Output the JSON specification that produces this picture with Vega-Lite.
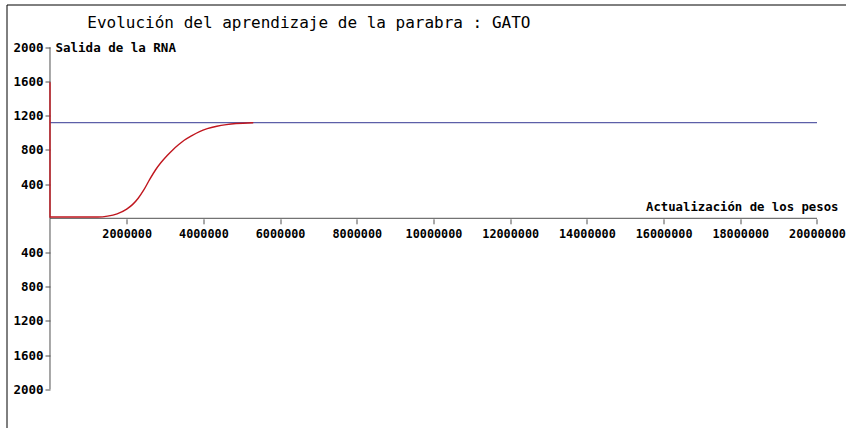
{
  "$schema": "https://vega.github.io/schema/vega-lite/v6.json",
  "width": 841,
  "height": 426,
  "autosize": {"type": "none"},
  "padding": {"left": 6.5, "top": 4.5, "right": -1.5, "bottom": -2.5},
  "background": "white",
  "config": {
    "view": {"stroke": "#000000", "strokeWidth": 1},
    "font": "DejaVu Sans Mono"
  },
  "title": {
    "text": "Evolución del aprendizaje de la parabra : GATO",
    "anchor": "start",
    "frame": "group",
    "orient": "top",
    "offset": 0,
    "dx": 80.8,
    "dy": 39.5,
    "baseline": "alphabetic",
    "font": "DejaVu Sans Mono",
    "fontSize": 16,
    "fontWeight": "normal",
    "color": "#000000"
  },
  "datasets": {
    "axes": [
      {"x": 0, "x2": 20000000, "y": 0, "y2": 0},
      {"x": 0, "x2": 0, "y": -2000, "y2": 2000}
    ],
    "target": [
      {"x": 0, "y": 1120},
      {"x": 20000000, "y": 1120}
    ],
    "output": [
      {"x": 0, "y": 1590},
      {"x": 0, "y": 15},
      {"x": 1250000, "y": 15},
      {"x": 1500000, "y": 25},
      {"x": 1750000, "y": 52},
      {"x": 2000000, "y": 108},
      {"x": 2150000, "y": 160},
      {"x": 2300000, "y": 235},
      {"x": 2450000, "y": 335},
      {"x": 2600000, "y": 455},
      {"x": 2750000, "y": 565},
      {"x": 2900000, "y": 655},
      {"x": 3050000, "y": 732},
      {"x": 3200000, "y": 800},
      {"x": 3350000, "y": 860},
      {"x": 3500000, "y": 913},
      {"x": 3700000, "y": 968},
      {"x": 3900000, "y": 1015},
      {"x": 4100000, "y": 1048},
      {"x": 4350000, "y": 1076},
      {"x": 4600000, "y": 1095},
      {"x": 4850000, "y": 1108},
      {"x": 5300000, "y": 1118}
    ]
  },
  "encoding": {
    "x": {
      "field": "x",
      "type": "quantitative",
      "scale": {"domain": [-1134289, 20795307], "nice": false, "zero": false},
      "axis": {
        "orient": "bottom",
        "offset": -211.7,
        "domain": false,
        "grid": false,
        "values": [2000000, 4000000, 6000000, 8000000, 10000000, 12000000, 14000000, 16000000, 18000000, 20000000],
        "labelExpr": "'' + datum.value",
        "tickSize": 5,
        "tickColor": "#505050",
        "labelFont": "DejaVu Sans Mono",
        "labelFontWeight": "bold",
        "labelFontSize": 11.8,
        "labelColor": "#000000",
        "labelPadding": 5,
        "labelFlush": false,
        "labelOverlap": false,
        "title": "Actualización de los pesos",
        "titleFont": "DejaVu Sans Mono",
        "titleFontSize": 12.3,
        "titleFontWeight": "bold",
        "titleColor": "#000000",
        "titleAnchor": "start",
        "titleAlign": "right",
        "titleBaseline": "alphabetic",
        "titleX": 831.5,
        "titleY": -8.3
      }
    },
    "y": {
      "field": "y",
      "type": "quantitative",
      "scale": {"domain": [-2481.9, 2500.6], "nice": false, "zero": false},
      "axis": {
        "orient": "left",
        "offset": -43.5,
        "domain": false,
        "grid": false,
        "values": [-2000, -1600, -1200, -800, -400, 400, 800, 1200, 1600, 2000],
        "labelExpr": "'' + abs(datum.value)",
        "tickSize": 5,
        "tickColor": "#505050",
        "labelFont": "DejaVu Sans Mono",
        "labelFontWeight": "bold",
        "labelFontSize": 12.5,
        "labelColor": "#000000",
        "labelPadding": 2,
        "labelFlush": false,
        "labelOverlap": false,
        "title": "Salida de la RNA",
        "titleFont": "DejaVu Sans Mono",
        "titleFontSize": 12.5,
        "titleFontWeight": "bold",
        "titleColor": "#000000",
        "titleAngle": 0,
        "titleAnchor": "start",
        "titleAlign": "left",
        "titleBaseline": "alphabetic",
        "titleX": 5,
        "titleY": 47.2
      }
    }
  },
  "layer": [
    {
      "data": {"name": "axes"},
      "mark": {"type": "rule", "color": "#505050", "strokeWidth": 1},
      "encoding": {
        "x2": {"field": "x2"},
        "y2": {"field": "y2"}
      }
    },
    {
      "data": {"name": "target"},
      "mark": {"type": "line", "color": "#5c5fa8", "strokeWidth": 1.3},
      "encoding": {}
    },
    {
      "data": {"name": "output"},
      "mark": {"type": "line", "color": "#c0161e", "strokeWidth": 1.4, "interpolate": "monotone"},
      "encoding": {"order": {"field": "x", "type": "quantitative"}}
    }
  ]
}
